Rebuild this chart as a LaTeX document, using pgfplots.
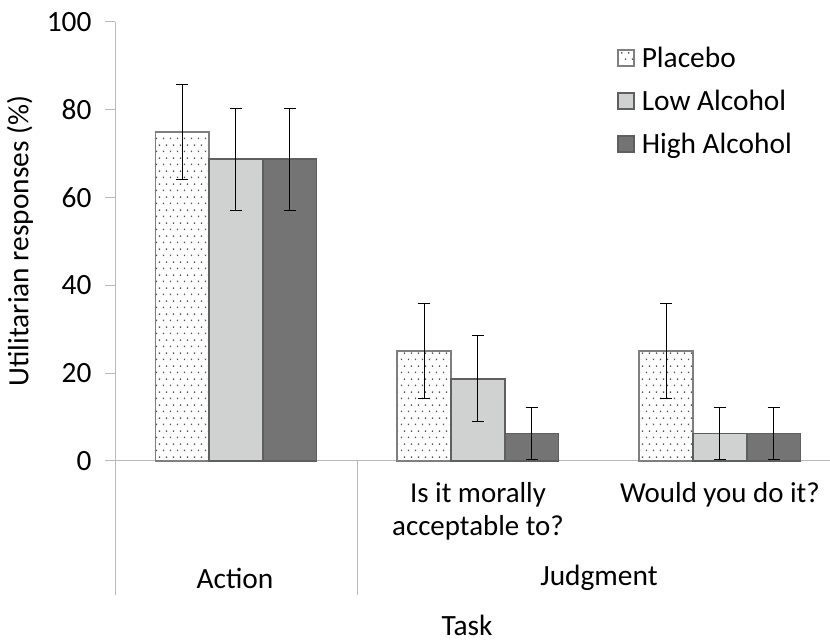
\documentclass[border=0pt]{standalone}
\usepackage{fontspec}
\setmainfont{Carlito}
\usepackage{pgfplots}
\pgfplotsset{compat=1.18}
\usetikzlibrary{patterns.meta}

\tikzdeclarepattern{
  name=mydots,
  type=uncolored,
  bounding box={(0,0) and (7bp,12.6bp)},
  tile size={(7bp,12.6bp)},
  code={
    \fill (2bp,2bp) rectangle (3.5bp,3.5bp);
    \fill (5.5bp,8.3bp) rectangle (7bp,9.8bp);
  }
}

\definecolor{axgray}{RGB}{185,185,185}
\definecolor{lowfill}{RGB}{208,210,210}
\definecolor{highfill}{RGB}{116,116,116}
\definecolor{bordgray}{RGB}{95,95,95}

\pgfplotsset{
  mylegend/.style={legend image code/.code={\draw[##1, line width=1.5bp] (0bp,-8bp) rectangle (16bp,8bp);}},
}

\begin{document}
\begin{tikzpicture}
\useasboundingbox (0,0) rectangle (830bp,642bp);
\begin{axis}[
  at={(115bp,181bp)}, anchor=south west,
  width=715bp, height=439bp, scale only axis,
  xmin=-0.5, xmax=2.455, ymin=0, ymax=100,
  axis x line=bottom, axis y line=left,
  axis line style={draw=axgray, line width=1bp, -},
  ytick={0,20,40,60,80,100}, xtick=\empty,
  y tick style={draw=axgray, line width=1bp},
  major tick length=10bp, tick align=outside,
  /pgf/number format/assume math mode=true,
  ticklabel style={font=\fontsize{29.5}{31}\selectfont},
  yticklabel style={xshift=-10bp},
  ybar=0pt, bar width=0.222,
  legend style={at={(rel axis cs:0.698,0.952)}, anchor=north west, draw=none, fill=none,
    font=\fontsize{29.5}{33}\selectfont, row sep=17bp, legend cell align=left,
    /tikz/every odd column/.append style={column sep=5bp}},
  clip=false,
]
\addplot[ybar, mylegend, pattern=mydots, pattern color=gray!65!black, draw=bordgray!80, line width=1.8bp,
  error bars/.cd, y dir=both, y explicit,
  error bar style={black, line width=1bp},
  error mark options={black, mark size=6bp, line width=1bp, rotate=90}]
  coordinates {(0,75)+-(0,10.8) (1,25)+-(0,10.8) (2,25)+-(0,10.8)};
\addlegendentry{Placebo}
\addplot[ybar, mylegend, fill=lowfill, draw=bordgray, line width=1.8bp,
  error bars/.cd, y dir=both, y explicit,
  error bar style={black, line width=1bp},
  error mark options={black, mark size=6bp, line width=1bp, rotate=90}]
  coordinates {(0,68.75)+-(0,11.6) (1,18.75)+-(0,9.8) (2,6.25)+-(0,5.9)};
\addlegendentry{Low Alcohol}
\addplot[ybar, mylegend, fill=highfill, draw=bordgray, line width=1.8bp,
  error bars/.cd, y dir=both, y explicit,
  error bar style={black, line width=1bp},
  error mark options={black, mark size=6bp, line width=1bp, rotate=90}]
  coordinates {(0,68.75)+-(0,11.6) (1,6.25)+-(0,5.9) (2,6.25)+-(0,5.9)};
\addlegendentry{High Alcohol}
\end{axis}
\draw[axgray, line width=1bp] (115bp,181bp) -- (115bp,47bp);
\draw[axgray, line width=1bp] (357bp,181bp) -- (357bp,47bp);
\node[font=\fontsize{29}{33}\selectfont, align=center] at (478bp,130.5bp) {Is it morally\\acceptable to?};
\node[font=\fontsize{29}{33}\selectfont] at (720bp,147bp) {Would you do it?};
\node[font=\fontsize{29.5}{33}\selectfont] at (235bp,64bp) {Action};
\node[font=\fontsize{29.5}{33}\selectfont] at (599bp,64bp) {Judgment};
\node[font=\fontsize{29.5}{33}\selectfont, inner sep=0pt] at (467bp,17bp) {Task};
\node[font=\fontsize{29.5}{33}\selectfont, rotate=90] at (20bp,401bp) {Utilitarian responses (\%)};
\end{tikzpicture}
\end{document}
